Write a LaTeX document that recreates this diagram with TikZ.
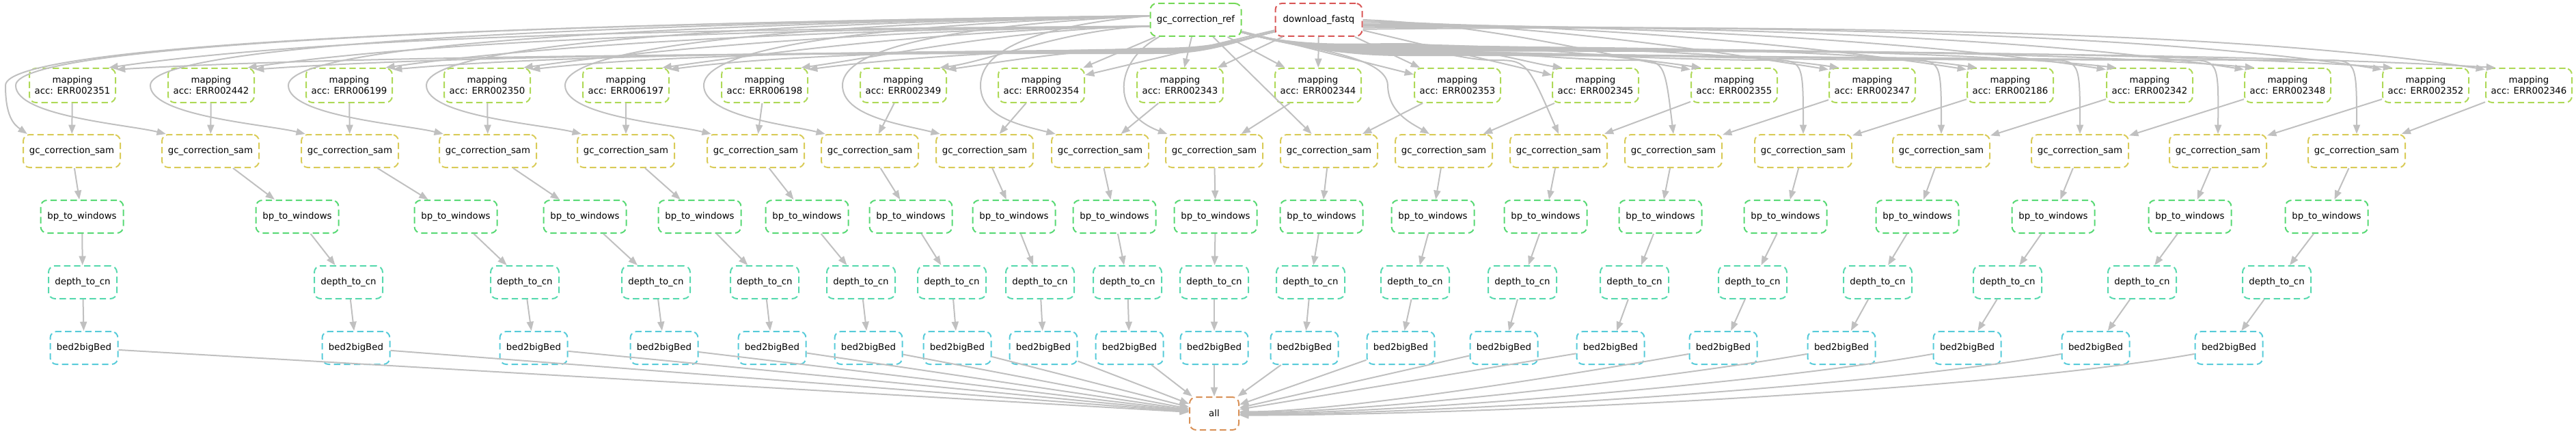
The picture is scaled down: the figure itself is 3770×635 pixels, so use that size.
\documentclass[tikz,border=0pt]{standalone}
\usepackage{fontspec}
\setmainfont{DejaVu Sans}
\usetikzlibrary{arrows.meta}
\definecolor{cdl}{HTML}{D95757}
\definecolor{call}{HTML}{D99157}
\definecolor{cgcs}{HTML}{D9CB57}
\definecolor{cmap}{HTML}{AED957}
\definecolor{cref}{HTML}{74D957}
\definecolor{cbp}{HTML}{57D974}
\definecolor{cdep}{HTML}{57D9AE}
\definecolor{cbed}{HTML}{57CBD9}
\definecolor{edgegray}{HTML}{C0C0C0}
\def\MX{{106,309,511,713,916,1119,1322,1524,1727,1929,2133,2335,2538,2740,2942,3146,3348,3550,3701}}
\def\GX{{105,308,512,714,916,1106,1273,1441,1610,1777,1945,2113,2281,2449,2639,2841,3044,3246,3449}}
\begin{document}
\begin{tikzpicture}[x=0.75pt,y=0.75pt,
  rule/.style={draw, rounded corners=7pt, dash pattern=on 7pt off 4pt, line width=1.5pt, inner sep=0pt, minimum height=36pt, font=\fontsize{10}{12}\selectfont, align=center, text=black},
  mapnode/.style={rule, draw=cmap, minimum width=94.5pt, minimum height=37.5pt},
  gcsnode/.style={rule, draw=cgcs, minimum width=106.5pt},
  bpnode/.style={rule, draw=cbp, minimum width=90.75pt},
  depnode/.style={rule, draw=cdep, minimum width=75pt},
  bednode/.style={rule, draw=cbed, minimum width=74.25pt},
  allnode/.style={rule, draw=call, minimum width=54pt},
  refnode/.style={rule, draw=cref, minimum width=99.75pt},
  dlnode/.style={rule, draw=cdl, minimum width=95.25pt},
  conn/.style={draw=edgegray, line width=1.5pt, -{Triangle[length=10pt,width=7.5pt]}},
]
\useasboundingbox (0,0) rectangle (3770,-635);

% nodes
\node[refnode] (ref) at (1750,-29) {gc\_correction\_ref};
\node[dlnode] (dl) at (1930,-29) {download\_fastq};
\foreach \x/\lab [count=\i from 0] in {106/ERR002351,309/ERR002442,511/ERR006199,713/ERR002350,916/ERR006197,1119/ERR006198,1322/ERR002349,1524/ERR002354,1727/ERR002343,1929/ERR002344,2133/ERR002353,2335/ERR002345,2538/ERR002355,2740/ERR002347,2942/ERR002186,3146/ERR002342,3348/ERR002348,3550/ERR002352,3701/ERR002346}
  \node[mapnode] (m\i) at (\x,-125) {mapping\\acc: \lab};
\foreach \x [count=\i from 0] in {105,308,512,714,916,1106,1273,1441,1610,1777,1945,2113,2281,2449,2639,2841,3044,3246,3449}
  \node[gcsnode] (g\i) at (\x,-221) {gc\_correction\_sam};
\foreach \x [count=\i from 0] in {120,435,667,856,1024,1181,1333,1484,1631,1779,1934,2097,2262,2430,2613,2806,3005,3205,3405}
  \node[bpnode] (b\i) at (\x,-317) {bp\_to\_windows};
\foreach \x [count=\i from 0] in {121,510,768,960,1119,1260,1393,1522,1650,1777,1918,2071,2228,2392,2565,2748,2938,3135,3332}
  \node[depnode] (d\i) at (\x,-413) {depth\_to\_cn};
\foreach \x [count=\i from 0] in {123,521,781,972,1130,1271,1401,1527,1653,1777,1909,2050,2201,2357,2522,2695,2879,3067,3262}
  \node[bednode] (e\i) at (\x,-509) {bed2bigBed};
\node[allnode] (all) at (1777,-605) {all};

% column edges
\foreach \i in {0,...,18}{
  \draw[conn] (m\i) -- (g\i);
  \draw[conn] (g\i) -- (b\i);
  \draw[conn] (b\i) -- (d\i);
  \draw[conn] (d\i) -- (e\i);
}

% bed2bigBed -> all
\foreach \i in {0,...,13} \draw[conn] (e\i) -- (all);
\foreach \i/\a/\ex in {14/4/2522,15/2/2695,16/0/2879,17/-2/3067,18/-4/3262}{
  \pgfmathsetmacro\qs{\ex-49.5}
  \pgfmathsetmacro\qc{0.234*(\qs-1813)}
  \pgfmathsetmacro\cax{\qs-0.985*\qc}
  \pgfmathsetmacro\cay{517.7+0.174*\qc}
  \pgfmathsetmacro\cbx{1813+\qc}
  \pgfmathsetmacro\cby{605-0.63*\a}
  \draw[conn] (e\i.190) .. controls (\cax,-\cay) and (\cbx,-\cby) .. (all.\a);
}

% straight top edges
\foreach \i in {7,8,9,10} \draw[conn] (ref) -- (m\i);
\foreach \i in {7,8,9,10,11} \draw[conn] (dl) -- (m\i);
\draw[conn] (ref) -- (g10);

% ref -> mapping (left)
\foreach \i in {0,...,6}{
  \pgfmathsetmacro\qtx{\MX[\i]+56}
  \pgfmathsetmacro\qL{1684-\qtx}
  \pgfmathsetmacro\cax{1684-0.4*\qL}
  \pgfmathsetmacro\cbx{\qtx+0.22*\qL}
  \pgfmathsetmacro\cby{max(50,100-0.033*\qL)}
  \draw[conn] (ref.188) .. controls (\cax,-42) and (\cbx,-\cby) .. (m\i.26);
}

% download -> mapping (left)
\foreach \i in {0,...,6}{
  \pgfmathsetmacro\yw{78-1.2*\i}
  \pgfmathsetmacro\qtx{\MX[\i]+63}
  \pgfmathsetmacro\qL{1700-\qtx}
  \pgfmathsetmacro\cax{1700-0.4*\qL}
  \pgfmathsetmacro\cbx{\qtx+0.22*\qL}
  \pgfmathsetmacro\cby{max(\yw+4,102-0.03*\qL)}
  \draw[conn] (dl.195) .. controls (1810,-60) and (1770,-\yw) .. (1700,-\yw) .. controls (\cax,-\yw) and (\cbx,-\cby) .. (m\i.20);
}

% ref -> gc_correction_sam loops (left)
\foreach \i/\gq in {0/8,1/23,2/220,3/422,4/624,5/827,6/1030,7/1233,8/1435}{
  \pgfmathsetmacro\qL{1684-\gq}
  \pgfmathsetmacro\cax{1684-0.5*\qL}
  \pgfmathsetmacro\qtx{\GX[\i]-62}
  \pgfmathsetmacro\cdx{max(\gq+12,\qtx-60)}
  \draw[conn] (ref.175) .. controls (\cax,-34) and (\gq,-60) .. (\gq,-125) .. controls (\gq,-170) and (\cdx,-182) .. (g\i.159);
}

% ref -> gc 9 and 11
\draw[conn] (ref.205) .. controls (1630,-90) and (1625,-165) .. (g9.160);
\draw[conn] (ref.-15) .. controls (1900,-70) and (2030,-80) .. (2031,-125) .. controls (2032,-165) and (2065,-180) .. (g11.130);

% ref -> mapping (right)
\foreach \i in {11,...,18}{
  \pgfmathsetmacro\yw{64+1.5*(\i-11)}
  \pgfmathsetmacro\qtx{\MX[\i]-47}
  \pgfmathsetmacro\qL{\qtx-2050}
  \pgfmathsetmacro\cax{2050+0.4*\qL}
  \pgfmathsetmacro\cbx{\qtx-0.22*\qL}
  \pgfmathsetmacro\cby{max(\yw+4,100-0.033*\qL)}
  \draw[conn] (ref.-15) .. controls (1900,-70) and (1980,-\yw) .. (2050,-\yw) .. controls (\cax,-\yw) and (\cbx,-\cby) .. (m\i.152);
}

% ref -> gc_correction_sam (right)
\foreach \i/\gq in {12/2234,13/2436,14/2639,15/2841,16/3044,17/3247,18/3449}{
  \pgfmathsetmacro\yw{72+1.5*(\i-12)}
  \pgfmathsetmacro\qpx{\gq-50}
  \pgfmathsetmacro\qL{\qpx-2050}
  \pgfmathsetmacro\cax{2050+0.4*\qL}
  \pgfmathsetmacro\cbx{\qpx-0.3*\qL}
  \draw[conn] (ref.-15) .. controls (1900,-70) and (1980,-\yw) .. (2050,-\yw) .. controls (\cax,-\yw) and (\cbx,-88) .. (\qpx,-88) .. controls (\gq,-88) .. (g\i.north);
}

% download -> mapping (right)
\foreach \i in {12,...,18}{
  \pgfmathtruncatemacro\qa{-2*(\i-12)}
  \pgfmathsetmacro\qtx{\MX[\i]-63}
  \pgfmathsetmacro\qL{\qtx-1993}
  \pgfmathsetmacro\cax{1993+0.4*\qL}
  \pgfmathsetmacro\cbx{\qtx-0.22*\qL}
  \pgfmathsetmacro\cby{max(45,102-0.035*\qL)}
  \draw[conn] (dl.\qa) .. controls (\cax,-36) and (\cbx,-\cby) .. (m\i.160);
}
\end{tikzpicture}
\end{document}
